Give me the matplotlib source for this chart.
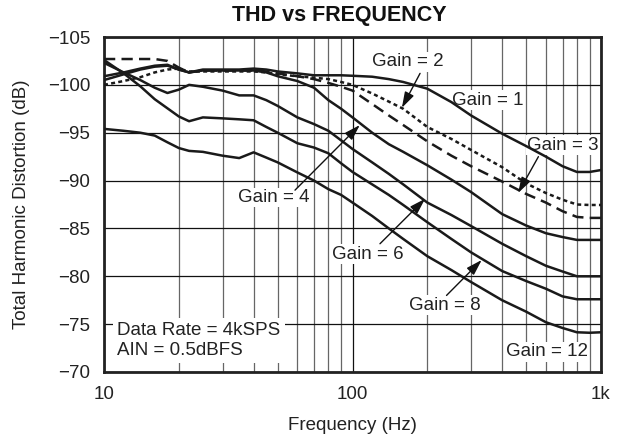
import matplotlib
matplotlib.use("Agg")
import matplotlib.pyplot as plt
from matplotlib.ticker import FixedLocator, NullFormatter

plt.rcParams['font.family'] = ['Liberation Sans', 'DejaVu Sans']

# ---------------- data ----------------
freq = [10, 12, 14, 16, 18, 20, 22, 25, 30, 35, 40, 45, 50, 60, 70, 80, 90,
        100, 120, 140, 160, 200, 250, 300, 400, 500, 600, 700, 800, 900, 1000]

gain1 = [-100.9, -101.3, -101.7, -102.0, -102.1, -101.6, -101.3, -101.6, -101.6, -101.6,
         -101.7, -101.6, -101.4, -101.2, -101.0, -101.0, -101.0,
         -100.95, -100.85, -100.6, -100.3, -99.6, -98.2, -96.8, -94.9, -93.6, -92.5,
         -91.5, -90.9, -90.9, -91.1]
gain2 = [-100.0, -100.4, -100.8, -101.3, -101.6, -101.7, -101.4, -101.4, -101.4, -101.4,
         -101.4, -101.3, -101.1, -100.9, -100.75, -100.6, -100.3,
         -100.0, -99.1, -98.25, -97.5, -95.6, -94.35, -93.2, -91.4, -89.7, -88.7,
         -88.0, -87.5, -87.45, -87.45]
gain3 = [-102.7, -102.7, -102.7, -102.7, -102.5, -101.8, -101.3, -101.5, -101.5, -101.5,
         -101.5, -101.4, -101.2, -100.9, -100.6, -100.2, -99.8,
         -99.4, -98.0, -96.8, -95.8, -94.1, -92.6, -91.5, -89.9, -88.6, -87.7,
         -86.8, -86.2, -86.1, -86.1]
gain4 = [-100.5, -101.1, -101.6, -101.9, -102.0, -101.6, -101.3, -101.5, -101.5, -101.5,
         -101.5, -101.3, -100.9, -100.4, -99.7, -98.4, -97.5,
         -96.6, -95.0, -93.8, -93.0, -91.6, -90.1, -88.8, -86.5, -85.3, -84.5,
         -84.1, -83.8, -83.8, -83.8]
gain6 = [-102.3, -101.3, -100.5, -99.7, -99.15, -99.5, -100.0, -99.8, -99.4, -98.9,
         -98.9, -98.4, -97.8, -96.6, -95.9, -95.2, -94.2,
         -93.3, -91.9, -90.7, -89.6, -87.7, -86.4, -85.25, -83.4, -82.1, -81.1,
         -80.5, -80.0, -80.0, -80.0]
gain8 = [-102.6, -101.2, -99.85, -98.5, -97.55, -96.7, -96.2, -96.6, -96.5, -96.4,
         -96.3, -95.6, -95.0, -93.9, -93.45, -92.85, -91.8,
         -90.9, -89.6, -88.5, -87.45, -85.65, -83.9, -82.5, -80.55, -79.5, -78.7,
         -77.9, -77.6, -77.6, -77.6]
gain12 = [-95.4, -95.2, -95.0, -94.7, -94.0, -93.4, -93.1, -93.0, -92.6, -92.35,
          -92.95, -92.4, -91.9, -90.85, -90.0, -89.1, -88.5,
          -87.7, -86.3, -85.0, -83.9, -82.1, -80.65, -79.4, -77.5, -76.3, -75.2,
          -74.6, -74.15, -74.1, -74.15]

yticks = [-105, -100, -95, -90, -85, -80, -75, -70]
ytick_labels = ['\u2212105', '\u2212100', '\u221295', '\u221290', '\u221285', '\u221280',
                '\u221275', '\u221270']
xticks = [10, 100, 1000]
xtick_labels = ['10', '100', '1k']
xminor = [20, 30, 40, 50, 60, 70, 80, 90, 200, 300, 400, 500, 600, 700, 800, 900]

# label text, label position (Hz, dB), arrow tail (Hz, dB), arrow tip (Hz, dB)
labels = ['Gain = 1', 'Gain = 2', 'Gain = 3', 'Gain = 4', 'Gain = 6', 'Gain = 8', 'Gain = 12']
label_pos = [(350, -98.4), (167, -102.4), (703, -93.7), (48.4, -88.25),
             (115, -82.3), (236, -77.0), (604, -72.1)]
arrow_tail = [None, (187, -101.2), (560, -92.5), (58.7, -89.0), (129, -83.4), (239, -78.0), None]
arrow_tip = [None, (158, -97.6), (464, -88.7), (107, -95.8), (196, -88.1), (331, -81.7), None]

# ---------------- figure ----------------
fig = plt.figure(figsize=(6.2, 4.41), dpi=100)
ax = fig.add_axes([104 / 620, 1 - 372 / 441, 497 / 620, 335 / 441])
ax.set_xscale('log')
ax.set_xlim(10, 1000)
ax.set_ylim(-70, -105)

FS = 13.5
ax.set_yticks(yticks)
ax.set_yticklabels(ytick_labels)
ax.set_xticks(xticks)
ax.set_xticklabels(xtick_labels)
ax.xaxis.set_minor_locator(FixedLocator(xminor))
ax.xaxis.set_minor_formatter(NullFormatter())
ax.yaxis.set_minor_locator(FixedLocator([]))
ax.tick_params(axis='both', which='both', length=0, labelsize=FS, colors='#222222')
ax.tick_params(axis='y', pad=10)
ax.tick_params(axis='x', pad=10)

ax.grid(which='major', axis='both', color='#111111', lw=0.9, zorder=1)
ax.grid(which='minor', axis='x', color='#666666', lw=0.9, zorder=1)
ax.set_axisbelow(True)
for s in ax.spines.values():
    s.set_linewidth(2.0)
    s.set_color('#222222')

lw = 1.8
ax.plot(freq, gain1, color='#1a1a1a', lw=lw, zorder=4, solid_joinstyle='round')
ax.plot(freq, gain2, color='#1a1a1a', lw=lw, zorder=4, dashes=(1.6, 1.3))
ax.plot(freq, gain3, color='#1a1a1a', lw=lw, zorder=4, dashes=(4.5, 2.5))
ax.plot(freq, gain4, color='#1a1a1a', lw=lw, zorder=4, solid_joinstyle='round')
ax.plot(freq, gain6, color='#1a1a1a', lw=lw, zorder=4, solid_joinstyle='round')
ax.plot(freq, gain8, color='#1a1a1a', lw=lw, zorder=4, solid_joinstyle='round')
ax.plot(freq, gain12, color='#1a1a1a', lw=lw, zorder=4, solid_joinstyle='round')

for txt, pos, tail, tip in zip(labels, label_pos, arrow_tail, arrow_tip):
    ax.text(pos[0], pos[1], txt, ha='center', va='center', fontsize=FS, color='#222222',
            zorder=3, bbox=dict(facecolor='white', edgecolor='none', pad=1.0))
    if tail is not None:
        ax.annotate('', xy=tip, xytext=tail, zorder=5,
                    arrowprops=dict(arrowstyle='-|>,head_length=0.8,head_width=0.25',
                                    color='#111111', lw=1.0, mutation_scale=12,
                                    shrinkA=0, shrinkB=0))

ax.text(11.3, -73.3, 'Data Rate = 4kSPS\nAIN = 0.5dBFS', ha='left', va='center',
        fontsize=FS, color='#222222', linespacing=1.2, zorder=3,
        bbox=dict(facecolor='white', edgecolor='none', pad=3.0))

fig.text(339 / 620, 1 - 16 / 441, 'THD vs FREQUENCY', ha='center', va='center',
         fontsize=15.5, fontweight='bold', color='#111111')
fig.text(352 / 620, 1 - 426 / 441, 'Frequency (Hz)', ha='center', va='center',
         fontsize=FS, color='#222222')
fig.text(22 / 620, 1 - 204.5 / 441, 'Total Harmonic Distortion (dB)', ha='center',
         va='center', rotation=90, fontsize=FS, color='#222222')

fig.savefig('out.png', dpi=100)
